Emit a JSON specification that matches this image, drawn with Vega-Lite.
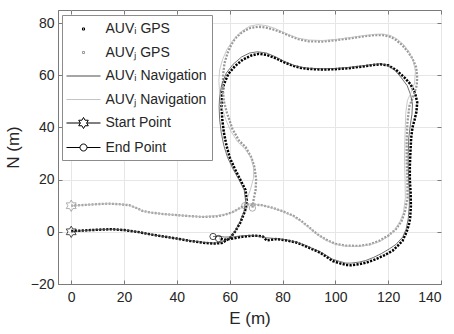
{
  "$schema": "https://vega.github.io/schema/vega-lite/v6.json",
  "width": 383,
  "height": 274,
  "autosize": "none",
  "padding": {"left": 58, "top": 10, "right": 13, "bottom": 50},
  "background": "white",
  "resolve": {"axis": {"x": "independent", "y": "independent"}},
  "config": {
    "font": "Liberation Sans",
    "view": {"stroke": "#7a7a7a", "strokeWidth": 1},
    "axis": {
      "domainColor": "#7a7a7a",
      "gridColor": "#e6e6e6",
      "tickColor": "#7a7a7a",
      "tickSize": -4,
      "labelFont": "Liberation Sans",
      "labelFontSize": 14,
      "labelColor": "#262626",
      "titleFont": "Liberation Sans",
      "titleFontSize": 17,
      "titleFontWeight": "normal",
      "titleColor": "#262626"
    },
    "legend": {
      "labelFont": "Liberation Sans",
      "labelFontSize": 14,
      "labelColor": "#262626",
      "strokeColor": "#8c8c8c",
      "fillColor": "white",
      "padding": 5,
      "symbolStrokeWidth": 1,
      "symbolOpacity": 1
    }
  },
  "datasets": {
    "gps": [
      {"v":"i","k":1,"x":0,"y":0.3},{"v":"i","k":2,"x":5,"y":0.5},{"v":"i","k":3,"x":10,"y":0.8},{"v":"i","k":4,"x":15,"y":1.0},{"v":"i","k":5,"x":20,"y":0.7},{"v":"i","k":6,"x":25,"y":0},{"v":"i","k":7,"x":30,"y":-1},{"v":"i","k":8,"x":35,"y":-1.8},{"v":"i","k":9,"x":40,"y":-2.6},{"v":"i","k":10,"x":45,"y":-3.5},{"v":"i","k":11,"x":50,"y":-4.2},{"v":"i","k":12,"x":54,"y":-4.5},{"v":"i","k":13,"x":57,"y":-4.3},{"v":"i","k":14,"x":60,"y":-2.5},{"v":"i","k":15,"x":62,"y":0},{"v":"i","k":16,"x":64,"y":3.5},{"v":"i","k":17,"x":65.8,"y":8},{"v":"i","k":18,"x":66.5,"y":12},{"v":"i","k":19,"x":66,"y":16},{"v":"i","k":20,"x":64,"y":20},{"v":"i","k":21,"x":62,"y":24},{"v":"i","k":22,"x":60,"y":28.5},{"v":"i","k":23,"x":58.8,"y":33},{"v":"i","k":24,"x":57.8,"y":38},{"v":"i","k":25,"x":57.2,"y":43},{"v":"i","k":26,"x":56.9,"y":48},{"v":"i","k":27,"x":57,"y":52},{"v":"i","k":28,"x":57.8,"y":56.5},{"v":"i","k":29,"x":59.5,"y":60.5},{"v":"i","k":30,"x":62,"y":63.5},{"v":"i","k":31,"x":65,"y":66},{"v":"i","k":32,"x":68,"y":67.5},{"v":"i","k":33,"x":71,"y":68.2},{"v":"i","k":34,"x":74,"y":67.8},{"v":"i","k":35,"x":77.5,"y":66.5},{"v":"i","k":36,"x":80.5,"y":65},{"v":"i","k":37,"x":84,"y":63.6},{"v":"i","k":38,"x":87,"y":62.8},{"v":"i","k":39,"x":90,"y":62.4},{"v":"i","k":40,"x":95,"y":62.2},{"v":"i","k":41,"x":100,"y":62.3},{"v":"i","k":42,"x":105,"y":62.7},{"v":"i","k":43,"x":110,"y":63.3},{"v":"i","k":44,"x":114,"y":63.9},{"v":"i","k":45,"x":117,"y":64.2},{"v":"i","k":46,"x":120,"y":63.8},{"v":"i","k":47,"x":123,"y":62},{"v":"i","k":48,"x":126,"y":59.3},{"v":"i","k":49,"x":128.5,"y":56.5},{"v":"i","k":50,"x":130.2,"y":53},{"v":"i","k":51,"x":131,"y":49.7},{"v":"i","k":52,"x":130.7,"y":46},{"v":"i","k":53,"x":130,"y":43},{"v":"i","k":54,"x":129.2,"y":40},{"v":"i","k":55,"x":128.7,"y":36},{"v":"i","k":56,"x":128.4,"y":30},{"v":"i","k":57,"x":128.2,"y":25},{"v":"i","k":58,"x":128.2,"y":20},{"v":"i","k":59,"x":128.5,"y":15},{"v":"i","k":60,"x":128.6,"y":10},{"v":"i","k":61,"x":128.3,"y":5},{"v":"i","k":62,"x":127.9,"y":3},{"v":"i","k":63,"x":127,"y":0},{"v":"i","k":64,"x":125.4,"y":-3.5},{"v":"i","k":65,"x":123.5,"y":-5.5},{"v":"i","k":66,"x":121.6,"y":-7.3},{"v":"i","k":67,"x":118.5,"y":-9},{"v":"i","k":68,"x":115.4,"y":-10.5},{"v":"i","k":69,"x":112,"y":-11.7},{"v":"i","k":70,"x":109,"y":-12.4},{"v":"i","k":71,"x":106,"y":-12.8},{"v":"i","k":72,"x":104,"y":-12.7},{"v":"i","k":73,"x":101.5,"y":-12},{"v":"i","k":74,"x":99,"y":-11.2},{"v":"i","k":75,"x":96.5,"y":-9.5},{"v":"i","k":76,"x":94.3,"y":-8},{"v":"i","k":77,"x":91.4,"y":-6.7},{"v":"i","k":78,"x":88,"y":-5.2},{"v":"i","k":79,"x":85.2,"y":-4.1},{"v":"i","k":80,"x":81,"y":-3.2},{"v":"i","k":81,"x":77.6,"y":-2.8},{"v":"i","k":82,"x":74,"y":-3.3},{"v":"i","k":83,"x":72.5,"y":-1.8},{"v":"i","k":84,"x":70,"y":-1.5},{"v":"i","k":85,"x":67,"y":-1.6},{"v":"i","k":86,"x":64,"y":-2},{"v":"i","k":87,"x":61,"y":-2.6},{"v":"i","k":88,"x":58,"y":-3},{"v":"i","k":89,"x":56,"y":-2.6},
      {"v":"j","k":1,"x":0,"y":10},{"v":"j","k":2,"x":5,"y":10.3},{"v":"j","k":3,"x":10,"y":10.6},{"v":"j","k":4,"x":14,"y":10.8},{"v":"j","k":5,"x":18,"y":10.6},{"v":"j","k":6,"x":22,"y":10.2},{"v":"j","k":7,"x":25,"y":9},{"v":"j","k":8,"x":27,"y":8},{"v":"j","k":9,"x":30,"y":7.4},{"v":"j","k":10,"x":35,"y":6.8},{"v":"j","k":11,"x":40,"y":6.4},{"v":"j","k":12,"x":45,"y":6},{"v":"j","k":13,"x":50,"y":5.7},{"v":"j","k":14,"x":55,"y":5.9},{"v":"j","k":15,"x":58,"y":6.5},{"v":"j","k":16,"x":61,"y":7.5},{"v":"j","k":17,"x":64,"y":9.2},{"v":"j","k":18,"x":66.5,"y":10.5},{"v":"j","k":19,"x":69,"y":10.5},{"v":"j","k":20,"x":72,"y":10.2},{"v":"j","k":21,"x":76,"y":9.3},{"v":"j","k":22,"x":80,"y":7.9},{"v":"j","k":23,"x":84,"y":6.2},{"v":"j","k":24,"x":87,"y":4.2},{"v":"j","k":25,"x":90,"y":1.8},{"v":"j","k":26,"x":93,"y":-0.8},{"v":"j","k":27,"x":96.5,"y":-3},{"v":"j","k":28,"x":100,"y":-4.6},{"v":"j","k":29,"x":104,"y":-5.3},{"v":"j","k":30,"x":109,"y":-5.4},{"v":"j","k":31,"x":113,"y":-4.8},{"v":"j","k":32,"x":116.6,"y":-3.5},{"v":"j","k":33,"x":120,"y":-1.5},{"v":"j","k":34,"x":122.9,"y":1},{"v":"j","k":35,"x":125,"y":4},{"v":"j","k":36,"x":126.3,"y":7.5},{"v":"j","k":37,"x":127.3,"y":13},{"v":"j","k":38,"x":127.3,"y":20},{"v":"j","k":39,"x":127,"y":27},{"v":"j","k":40,"x":127,"y":35},{"v":"j","k":41,"x":127.3,"y":42},{"v":"j","k":42,"x":128,"y":48},{"v":"j","k":43,"x":129.5,"y":52},{"v":"j","k":44,"x":130.8,"y":56},{"v":"j","k":45,"x":131,"y":59},{"v":"j","k":46,"x":130.6,"y":63},{"v":"j","k":47,"x":129.2,"y":66.4},{"v":"j","k":48,"x":127.5,"y":69},{"v":"j","k":49,"x":125.4,"y":71.5},{"v":"j","k":50,"x":123,"y":73.5},{"v":"j","k":51,"x":121,"y":74.7},{"v":"j","k":52,"x":118,"y":75.4},{"v":"j","k":53,"x":115,"y":75.4},{"v":"j","k":54,"x":110,"y":74.8},{"v":"j","k":55,"x":106,"y":74.2},{"v":"j","k":56,"x":100,"y":73.4},{"v":"j","k":57,"x":95,"y":72.9},{"v":"j","k":58,"x":90,"y":73},{"v":"j","k":59,"x":86,"y":73.8},{"v":"j","k":60,"x":83,"y":75},{"v":"j","k":61,"x":80,"y":76.3},{"v":"j","k":62,"x":77,"y":77.4},{"v":"j","k":63,"x":74,"y":78.2},{"v":"j","k":64,"x":71,"y":78.6},{"v":"j","k":65,"x":68,"y":78.2},{"v":"j","k":66,"x":66,"y":77.3},{"v":"j","k":67,"x":64,"y":76},{"v":"j","k":68,"x":62,"y":74},{"v":"j","k":69,"x":60.5,"y":71.5},{"v":"j","k":70,"x":59.2,"y":68.5},{"v":"j","k":71,"x":58,"y":64.5},{"v":"j","k":72,"x":57.5,"y":60},{"v":"j","k":73,"x":57.4,"y":55},{"v":"j","k":74,"x":57.8,"y":50},{"v":"j","k":75,"x":59,"y":45.5},{"v":"j","k":76,"x":61,"y":39.5},{"v":"j","k":77,"x":63.5,"y":35},{"v":"j","k":78,"x":66,"y":32.5},{"v":"j","k":79,"x":68.2,"y":28.5},{"v":"j","k":80,"x":69.4,"y":24.7},{"v":"j","k":81,"x":70,"y":20},{"v":"j","k":82,"x":69.8,"y":16},{"v":"j","k":83,"x":69,"y":12},{"v":"j","k":84,"x":68.6,"y":9.1}
    ],
    "nav": [
      {"v":"i","k":1,"x":0,"y":0},{"v":"i","k":2,"x":5,"y":0.5},{"v":"i","k":3,"x":10,"y":0.8},{"v":"i","k":4,"x":15,"y":1.0},{"v":"i","k":5,"x":20,"y":0.7},{"v":"i","k":6,"x":25,"y":0},{"v":"i","k":7,"x":30,"y":-1},{"v":"i","k":8,"x":35,"y":-1.8},{"v":"i","k":9,"x":40,"y":-2.6},{"v":"i","k":10,"x":45,"y":-3.4},{"v":"i","k":11,"x":50,"y":-4},{"v":"i","k":12,"x":54,"y":-4.3},{"v":"i","k":13,"x":57,"y":-4},{"v":"i","k":14,"x":60,"y":-2.3},{"v":"i","k":15,"x":62,"y":0.3},{"v":"i","k":16,"x":64,"y":4},{"v":"i","k":17,"x":65.5,"y":8},{"v":"i","k":18,"x":66,"y":12},{"v":"i","k":19,"x":65.5,"y":16},{"v":"i","k":20,"x":63.5,"y":20},{"v":"i","k":21,"x":61.3,"y":24},{"v":"i","k":22,"x":59.2,"y":28.5},{"v":"i","k":23,"x":57.8,"y":33},{"v":"i","k":24,"x":56.8,"y":38},{"v":"i","k":25,"x":56.2,"y":43},{"v":"i","k":26,"x":56,"y":48},{"v":"i","k":27,"x":56.2,"y":52},{"v":"i","k":28,"x":57,"y":56.5},{"v":"i","k":29,"x":58.7,"y":60.8},{"v":"i","k":30,"x":61.3,"y":64.2},{"v":"i","k":31,"x":64.5,"y":67},{"v":"i","k":32,"x":67.5,"y":68.5},{"v":"i","k":33,"x":70.5,"y":69},{"v":"i","k":34,"x":74,"y":68.5},{"v":"i","k":35,"x":77.5,"y":67},{"v":"i","k":36,"x":80.5,"y":65.4},{"v":"i","k":37,"x":84,"y":63.9},{"v":"i","k":38,"x":87,"y":63.1},{"v":"i","k":39,"x":90,"y":62.7},{"v":"i","k":40,"x":95,"y":62.5},{"v":"i","k":41,"x":100,"y":62.6},{"v":"i","k":42,"x":105,"y":63},{"v":"i","k":43,"x":110,"y":63.6},{"v":"i","k":44,"x":114,"y":64.1},{"v":"i","k":45,"x":117,"y":64.4},{"v":"i","k":46,"x":120,"y":63.8},{"v":"i","k":47,"x":122.5,"y":62},{"v":"i","k":48,"x":125,"y":59},{"v":"i","k":49,"x":127.2,"y":56},{"v":"i","k":50,"x":128.5,"y":52.5},{"v":"i","k":51,"x":129.2,"y":49},{"v":"i","k":52,"x":129,"y":45},{"v":"i","k":53,"x":128.4,"y":41},{"v":"i","k":54,"x":127.8,"y":36},{"v":"i","k":55,"x":127.6,"y":30},{"v":"i","k":56,"x":127.6,"y":25},{"v":"i","k":57,"x":127.8,"y":20},{"v":"i","k":58,"x":128,"y":15},{"v":"i","k":59,"x":128,"y":10},{"v":"i","k":60,"x":127.6,"y":5},{"v":"i","k":61,"x":126.8,"y":1},{"v":"i","k":62,"x":125.5,"y":-2},{"v":"i","k":63,"x":123,"y":-4.8},{"v":"i","k":64,"x":120.5,"y":-6.5},{"v":"i","k":65,"x":117.5,"y":-8.3},{"v":"i","k":66,"x":114.5,"y":-9.8},{"v":"i","k":67,"x":111.5,"y":-11},{"v":"i","k":68,"x":109,"y":-11.6},{"v":"i","k":69,"x":106,"y":-12},{"v":"i","k":70,"x":104,"y":-12},{"v":"i","k":71,"x":101.5,"y":-11.3},{"v":"i","k":72,"x":99,"y":-10.5},{"v":"i","k":73,"x":96.5,"y":-9},{"v":"i","k":74,"x":94,"y":-7.5},{"v":"i","k":75,"x":91,"y":-6.2},{"v":"i","k":76,"x":88,"y":-4.9},{"v":"i","k":77,"x":85,"y":-3.9},{"v":"i","k":78,"x":81,"y":-3},{"v":"i","k":79,"x":77.6,"y":-2.6},{"v":"i","k":80,"x":74,"y":-2.3},{"v":"i","k":81,"x":71,"y":-1.7},{"v":"i","k":82,"x":67,"y":-1.4},{"v":"i","k":83,"x":64,"y":-1.6},{"v":"i","k":84,"x":61,"y":-2},{"v":"i","k":85,"x":58,"y":-2},{"v":"i","k":86,"x":55.5,"y":-1.7},{"v":"i","k":87,"x":53.7,"y":-1.8},
      {"v":"j","k":1,"x":0,"y":10},{"v":"j","k":2,"x":5,"y":10.3},{"v":"j","k":3,"x":10,"y":10.6},{"v":"j","k":4,"x":14,"y":10.8},{"v":"j","k":5,"x":18,"y":10.6},{"v":"j","k":6,"x":22,"y":10.2},{"v":"j","k":7,"x":25,"y":9},{"v":"j","k":8,"x":27,"y":8},{"v":"j","k":9,"x":30,"y":7.4},{"v":"j","k":10,"x":35,"y":6.8},{"v":"j","k":11,"x":40,"y":6.4},{"v":"j","k":12,"x":45,"y":6},{"v":"j","k":13,"x":50,"y":5.8},{"v":"j","k":14,"x":55,"y":6.2},{"v":"j","k":15,"x":60,"y":7},{"v":"j","k":16,"x":64,"y":9},{"v":"j","k":17,"x":67,"y":10.6},{"v":"j","k":18,"x":70,"y":10.5},{"v":"j","k":19,"x":73,"y":10},{"v":"j","k":20,"x":76,"y":9.2},{"v":"j","k":21,"x":80,"y":7.8},{"v":"j","k":22,"x":84,"y":6},{"v":"j","k":23,"x":87,"y":4},{"v":"j","k":24,"x":90,"y":1.6},{"v":"j","k":25,"x":93,"y":-1},{"v":"j","k":26,"x":96.5,"y":-3.2},{"v":"j","k":27,"x":100,"y":-4.8},{"v":"j","k":28,"x":104,"y":-5.5},{"v":"j","k":29,"x":109,"y":-5.6},{"v":"j","k":30,"x":113,"y":-5},{"v":"j","k":31,"x":116.6,"y":-3.8},{"v":"j","k":32,"x":120,"y":-1.8},{"v":"j","k":33,"x":122.5,"y":0.8},{"v":"j","k":34,"x":124.5,"y":4},{"v":"j","k":35,"x":125.8,"y":7.5},{"v":"j","k":36,"x":126.5,"y":13},{"v":"j","k":37,"x":126.4,"y":20},{"v":"j","k":38,"x":126.2,"y":27},{"v":"j","k":39,"x":126.3,"y":35},{"v":"j","k":40,"x":126.5,"y":40.8},{"v":"j","k":41,"x":126.7,"y":46},{"v":"j","k":42,"x":127.3,"y":50.4},{"v":"j","k":43,"x":128.5,"y":53},{"v":"j","k":44,"x":130,"y":57},{"v":"j","k":45,"x":130.3,"y":61.5},{"v":"j","k":46,"x":129.5,"y":65.5},{"v":"j","k":47,"x":128,"y":68.8},{"v":"j","k":48,"x":126,"y":71.6},{"v":"j","k":49,"x":123.5,"y":73.8},{"v":"j","k":50,"x":121,"y":75.2},{"v":"j","k":51,"x":118,"y":75.8},{"v":"j","k":52,"x":115,"y":75.7},{"v":"j","k":53,"x":110,"y":75.1},{"v":"j","k":54,"x":106,"y":74.5},{"v":"j","k":55,"x":100,"y":73.7},{"v":"j","k":56,"x":95,"y":73.3},{"v":"j","k":57,"x":90,"y":73.5},{"v":"j","k":58,"x":86,"y":74.2},{"v":"j","k":59,"x":83,"y":75.3},{"v":"j","k":60,"x":80,"y":76.6},{"v":"j","k":61,"x":77,"y":78},{"v":"j","k":62,"x":74,"y":79},{"v":"j","k":63,"x":70.7,"y":79.4},{"v":"j","k":64,"x":67.5,"y":78.8},{"v":"j","k":65,"x":64.5,"y":76.8},{"v":"j","k":66,"x":61.5,"y":73.8},{"v":"j","k":67,"x":59,"y":70},{"v":"j","k":68,"x":57.3,"y":66},{"v":"j","k":69,"x":56.2,"y":62},{"v":"j","k":70,"x":55.9,"y":58},{"v":"j","k":71,"x":56.2,"y":53},{"v":"j","k":72,"x":57,"y":48},{"v":"j","k":73,"x":58.5,"y":43},{"v":"j","k":74,"x":60.5,"y":38.5},{"v":"j","k":75,"x":63,"y":34.5},{"v":"j","k":76,"x":66,"y":31.5},{"v":"j","k":77,"x":68,"y":28.5},{"v":"j","k":78,"x":69,"y":24.7},{"v":"j","k":79,"x":69,"y":20.5},{"v":"j","k":80,"x":67.8,"y":16},{"v":"j","k":81,"x":66.5,"y":12.5},{"v":"j","k":82,"x":65.7,"y":10}
    ],
    "marks": [
      {"v":"i","kind":"start","x":0,"y":0},
      {"v":"j","kind":"start","x":0,"y":10},
      {"v":"i","kind":"end","x":55.8,"y":-2.6},
      {"v":"i","kind":"end","x":53.7,"y":-1.8},
      {"v":"j","kind":"end","x":68.6,"y":9.1},
      {"v":"j","kind":"end","x":65.7,"y":10}
    ],
    "legend": [
      {"s":"AUVᵢ GPS"},{"s":"AUVⱼ GPS"},{"s":"AUVᵢ Navigation"},{"s":"AUVⱼ Navigation"},{"s":"Start Point"},{"s":"End Point"}
    ]
  },
  "layer": [
    {
      "data": {"name": "gps"},
      "transform": [{"filter": "datum.v === 'i'"}],
      "mark": {"type": "line", "stroke": "#000000", "strokeWidth": 2.5, "strokeDash": [2.2, 1.3], "strokeCap": "butt"},
      "encoding": {
        "x": {"field": "x", "type": "quantitative", "scale": {"domain": [-5, 140], "nice": false, "zero": false},
              "axis": {"title": "E (m)", "values": [0,20,40,60,80,100,120,140], "labelPadding": 10, "titlePadding": 6}},
        "y": {"field": "y", "type": "quantitative", "scale": {"domain": [-20, 85], "nice": false, "zero": false},
              "axis": {"title": "N (m)", "values": [-20,0,20,40,60,80], "labelPadding": 8, "titlePadding": 8}},
        "order": {"field": "k", "type": "quantitative"}
      }
    },
    {
      "data": {"name": "gps"},
      "transform": [{"filter": "datum.v === 'j'"}],
      "mark": {"type": "line", "stroke": "#999999", "strokeWidth": 2.3, "strokeDash": [2, 1.4], "strokeCap": "butt"},
      "encoding": {
        "x": {"field": "x", "type": "quantitative", "axis": null},
        "y": {"field": "y", "type": "quantitative", "axis": null},
        "order": {"field": "k", "type": "quantitative"}
      }
    },
    {
      "data": {"name": "nav"},
      "transform": [{"filter": "datum.v === 'i'"}],
      "mark": {"type": "line", "stroke": "#4d4d4d", "strokeWidth": 0.8},
      "encoding": {
        "x": {"field": "x", "type": "quantitative", "axis": null},
        "y": {"field": "y", "type": "quantitative", "axis": null},
        "order": {"field": "k", "type": "quantitative"}
      }
    },
    {
      "data": {"name": "nav"},
      "transform": [{"filter": "datum.v === 'j'"}],
      "mark": {"type": "line", "stroke": "#bdbdbd", "strokeWidth": 0.8},
      "encoding": {
        "x": {"field": "x", "type": "quantitative", "axis": null},
        "y": {"field": "y", "type": "quantitative", "axis": null},
        "order": {"field": "k", "type": "quantitative"}
      }
    },
    {
      "data": {"name": "marks"},
      "transform": [{"filter": "datum.kind === 'start'"}],
      "mark": {"type": "point", "filled": false, "strokeWidth": 1, "size": 130,
               "shape": "M0,-1L0.289,-0.5L0.866,-0.5L0.577,0L0.866,0.5L0.289,0.5L0,1L-0.289,0.5L-0.866,0.5L-0.577,0L-0.866,-0.5L-0.289,-0.5Z"},
      "encoding": {
        "x": {"field": "x", "type": "quantitative", "axis": null},
        "y": {"field": "y", "type": "quantitative", "axis": null},
        "stroke": {"condition": {"test": "datum.v === 'j'", "value": "#8c8c8c"}, "value": "#000000"}
      }
    },
    {
      "data": {"name": "marks"},
      "transform": [{"filter": "datum.kind === 'end'"}],
      "mark": {"type": "point", "shape": "circle", "filled": false, "strokeWidth": 1, "size": 40},
      "encoding": {
        "x": {"field": "x", "type": "quantitative", "axis": {"orient": "top", "labels": false, "grid": false, "domain": false, "title": null, "values": [0,20,40,60,80,100,120,140]}},
        "y": {"field": "y", "type": "quantitative", "axis": {"orient": "right", "labels": false, "grid": false, "domain": false, "title": null, "values": [-20,0,20,40,60,80]}},
        "stroke": {"condition": {"test": "datum.v === 'j'", "value": "#8c8c8c"}, "value": "#000000"}
      }
    },
    {
      "data": {"name": "legend"},
      "mark": {"type": "point", "filled": false, "opacity": 0},
      "encoding": {
        "stroke": {"field": "s", "type": "nominal",
          "scale": {"domain": ["AUVᵢ GPS","AUVⱼ GPS","AUVᵢ Navigation","AUVⱼ Navigation","Start Point","End Point"],
                    "range": ["#000000","#999999","#4d4d4d","#c4c4c4","#000000","#000000"]},
          "legend": {"title": null, "orient": "none", "legendX": 4, "legendY": 5, "symbolSize": 289, "symbolOffset": 7.5, "labelOffset": 13, "rowPadding": 7.5}},
        "shape": {"field": "s", "type": "nominal",
          "scale": {"domain": ["AUVᵢ GPS","AUVⱼ GPS","AUVᵢ Navigation","AUVⱼ Navigation","Start Point","End Point"],
                    "range": [
                      "M-0.12,-0.12H0.12V0.12H-0.12Z",
                      "M-0.12,-0.12H0.12V0.12H-0.12Z",
                      "M-2,0H2",
                      "M-2,0H2",
                      "M-2,0H-0.375M0.375,0H2M0,-0.65L0.188,-0.325L0.563,-0.325L0.375,0L0.563,0.325L0.188,0.325L0,0.65L-0.188,0.325L-0.563,0.325L-0.375,0L-0.563,-0.325L-0.188,-0.325Z",
                      "M-2,0H-0.41M0.41,0H2M0.41,0A0.41,0.41 0 1,1 -0.41,0A0.41,0.41 0 1,1 0.41,0Z"
                    ]},
          "legend": {"title": null, "orient": "none", "legendX": 4, "legendY": 5, "symbolSize": 289, "symbolOffset": 7.5, "labelOffset": 13, "rowPadding": 7.5}}
      }
    }
  ]
}
